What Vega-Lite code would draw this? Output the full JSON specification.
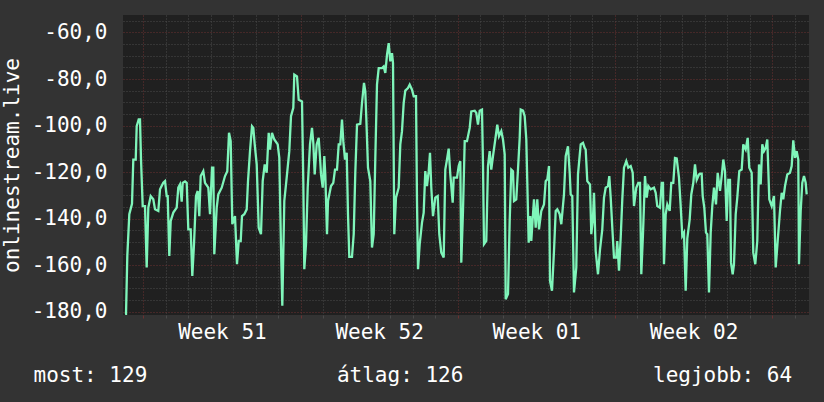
{
  "$schema": "https://vega.github.io/schema/vega-lite/v6.json",
  "width": 686,
  "height": 300,
  "autosize": {"type": "none"},
  "padding": {"left": 123, "top": 15, "right": 15, "bottom": 87},
  "background": "#333333",
  "config": {
    "font": "DejaVu Sans Mono",
    "view": {"fill": "#202020", "stroke": null}
  },
  "data": {
    "values": [
      {"t":-0.81,"v":-181},{"t":-0.77,"v":-181},{"t":-0.712,"v":-156},{"t":-0.623,"v":-138.1},{"t":-0.503,"v":-133.6},{"t":-0.445,"v":-114.6},{"t":-0.338,"v":-114.6},{"t":-0.294,"v":-100.3},{"t":-0.205,"v":-97.4},{"t":-0.147,"v":-97.4},{"t":-0.102,"v":-114.6},{"t":-0.027,"v":-134.6},{"t":0.076,"v":-134.6},{"t":0.151,"v":-161},{"t":0.223,"v":-135.3},{"t":0.329,"v":-130.3},{"t":0.445,"v":-131.7},{"t":0.521,"v":-136},{"t":0.668,"v":-136.7},{"t":0.744,"v":-127.4},{"t":0.89,"v":-124.6},{"t":0.966,"v":-123.9},{"t":1.042,"v":-130.3},{"t":1.086,"v":-130.3},{"t":1.158,"v":-156},{"t":1.22,"v":-141},{"t":1.336,"v":-137.4},{"t":1.487,"v":-135.3},{"t":1.558,"v":-126.7},{"t":1.634,"v":-125.3},{"t":1.71,"v":-132.7},{"t":1.754,"v":-124.6},{"t":1.857,"v":-124},{"t":1.932,"v":-124.6},{"t":2.004,"v":-144.6},{"t":2.11,"v":-144.6},{"t":2.182,"v":-164.6},{"t":2.257,"v":-151},{"t":2.346,"v":-130.3},{"t":2.422,"v":-128.1},{"t":2.493,"v":-138.9},{"t":2.556,"v":-121.7},{"t":2.671,"v":-119.6},{"t":2.747,"v":-124.6},{"t":2.894,"v":-126.7},{"t":2.97,"v":-138.1},{"t":3.059,"v":-118.1},{"t":3.117,"v":-118.1},{"t":3.161,"v":-155.3},{"t":3.268,"v":-135.3},{"t":3.339,"v":-129.6},{"t":3.491,"v":-126.7},{"t":3.638,"v":-121.7},{"t":3.74,"v":-119.6},{"t":3.816,"v":-103.1},{"t":3.891,"v":-106.7},{"t":3.963,"v":-142.4},{"t":4.083,"v":-138.9},{"t":4.172,"v":-159.6},{"t":4.248,"v":-149.6},{"t":4.337,"v":-149.6},{"t":4.394,"v":-138.9},{"t":4.497,"v":-138.1},{"t":4.604,"v":-136},{"t":4.662,"v":-123.9},{"t":4.751,"v":-111},{"t":4.84,"v":-100.3},{"t":4.898,"v":-101},{"t":4.96,"v":-108.1},{"t":5.049,"v":-116.7},{"t":5.138,"v":-143.9},{"t":5.24,"v":-146.7},{"t":5.316,"v":-123.9},{"t":5.405,"v":-116.7},{"t":5.494,"v":-120.3},{"t":5.583,"v":-103.1},{"t":5.641,"v":-110.3},{"t":5.73,"v":-103.1},{"t":5.833,"v":-106},{"t":5.984,"v":-108.1},{"t":6.055,"v":-113.9},{"t":6.131,"v":-152.4},{"t":6.189,"v":-177.4},{"t":6.278,"v":-132.4},{"t":6.354,"v":-125.3},{"t":6.5,"v":-111},{"t":6.576,"v":-96},{"t":6.679,"v":-92.4},{"t":6.723,"v":-78.1},{"t":6.843,"v":-78.9},{"t":6.919,"v":-88.9},{"t":7.066,"v":-89.6},{"t":7.124,"v":-123.9},{"t":7.168,"v":-161.7},{"t":7.244,"v":-151},{"t":7.32,"v":-126.7},{"t":7.422,"v":-108.1},{"t":7.511,"v":-101},{"t":7.569,"v":-107.4},{"t":7.631,"v":-121},{"t":7.72,"v":-108.1},{"t":7.809,"v":-105.3},{"t":7.867,"v":-113.6},{"t":7.912,"v":-121},{"t":7.988,"v":-126.7},{"t":8.059,"v":-113.1},{"t":8.103,"v":-121},{"t":8.179,"v":-146.7},{"t":8.224,"v":-132.4},{"t":8.357,"v":-126},{"t":8.459,"v":-124.6},{"t":8.535,"v":-118.9},{"t":8.624,"v":-118.9},{"t":8.7,"v":-108.1},{"t":8.771,"v":-108.1},{"t":8.847,"v":-97.4},{"t":8.905,"v":-106.7},{"t":8.98,"v":-114.6},{"t":9.056,"v":-111.7},{"t":9.114,"v":-138.1},{"t":9.172,"v":-156.4},{"t":9.292,"v":-156.4},{"t":9.368,"v":-146.7},{"t":9.439,"v":-120.3},{"t":9.515,"v":-99.6},{"t":9.662,"v":-99.3},{"t":9.737,"v":-90.3},{"t":9.826,"v":-81.7},{"t":9.884,"v":-85.3},{"t":9.929,"v":-96.7},{"t":10.004,"v":-118.1},{"t":10.107,"v":-123.9},{"t":10.182,"v":-152.4},{"t":10.258,"v":-146.7},{"t":10.329,"v":-114.6},{"t":10.405,"v":-82.4},{"t":10.481,"v":-75.3},{"t":10.628,"v":-75.3},{"t":10.703,"v":-74.6},{"t":10.775,"v":-77.4},{"t":10.85,"v":-69.6},{"t":10.926,"v":-64.6},{"t":10.997,"v":-72.4},{"t":11.073,"v":-68.9},{"t":11.118,"v":-73.1},{"t":11.175,"v":-146.7},{"t":11.251,"v":-131},{"t":11.371,"v":-126.7},{"t":11.443,"v":-108.1},{"t":11.518,"v":-102.4},{"t":11.594,"v":-90.3},{"t":11.665,"v":-85},{"t":11.785,"v":-83.9},{"t":11.861,"v":-82.4},{"t":11.964,"v":-84.6},{"t":12.039,"v":-87.4},{"t":12.142,"v":-87.4},{"t":12.186,"v":-132.4},{"t":12.231,"v":-161.7},{"t":12.306,"v":-151},{"t":12.409,"v":-141.7},{"t":12.484,"v":-137.4},{"t":12.556,"v":-119.6},{"t":12.631,"v":-126},{"t":12.707,"v":-119.6},{"t":12.765,"v":-111.7},{"t":12.823,"v":-126.7},{"t":12.898,"v":-138.9},{"t":13.001,"v":-131},{"t":13.108,"v":-130.3},{"t":13.179,"v":-146.7},{"t":13.268,"v":-154.6},{"t":13.375,"v":-156.7},{"t":13.446,"v":-118.9},{"t":13.522,"v":-114.6},{"t":13.597,"v":-109.9},{"t":13.669,"v":-121},{"t":13.775,"v":-133.1},{"t":13.82,"v":-122.4},{"t":13.967,"v":-122.4},{"t":14.043,"v":-117.4},{"t":14.114,"v":-115.3},{"t":14.158,"v":-158.9},{"t":14.234,"v":-136.7},{"t":14.31,"v":-106.7},{"t":14.412,"v":-106.7},{"t":14.533,"v":-101},{"t":14.604,"v":-93.9},{"t":14.755,"v":-93.6},{"t":14.826,"v":-94.6},{"t":14.902,"v":-99.6},{"t":14.978,"v":-93.6},{"t":15.08,"v":-93.1},{"t":15.125,"v":-116.7},{"t":15.169,"v":-151},{"t":15.272,"v":-149.6},{"t":15.347,"v":-117.4},{"t":15.423,"v":-111},{"t":15.494,"v":-118.9},{"t":15.57,"v":-113.1},{"t":15.672,"v":-106},{"t":15.761,"v":-99.6},{"t":15.837,"v":-104.6},{"t":15.939,"v":-102.4},{"t":16.015,"v":-106},{"t":16.091,"v":-112.4},{"t":16.135,"v":-174.6},{"t":16.238,"v":-172.4},{"t":16.313,"v":-141},{"t":16.385,"v":-118.9},{"t":16.46,"v":-119.6},{"t":16.505,"v":-132.4},{"t":16.607,"v":-131.7},{"t":16.683,"v":-118.9},{"t":16.759,"v":-105.3},{"t":16.803,"v":-93.1},{"t":16.906,"v":-93.6},{"t":16.981,"v":-96},{"t":17.053,"v":-106},{"t":17.159,"v":-150.3},{"t":17.231,"v":-138.9},{"t":17.275,"v":-149.6},{"t":17.351,"v":-138.1},{"t":17.395,"v":-131.7},{"t":17.471,"v":-143.9},{"t":17.542,"v":-131.7},{"t":17.618,"v":-144.6},{"t":17.72,"v":-136.7},{"t":17.841,"v":-133.9},{"t":17.916,"v":-123.9},{"t":17.988,"v":-123.1},{"t":18.063,"v":-117.4},{"t":18.108,"v":-166.7},{"t":18.197,"v":-171},{"t":18.286,"v":-153.9},{"t":18.362,"v":-136.7},{"t":18.433,"v":-136},{"t":18.54,"v":-138.1},{"t":18.611,"v":-142.4},{"t":18.731,"v":-129.6},{"t":18.807,"v":-113.1},{"t":18.909,"v":-108.9},{"t":18.985,"v":-120.3},{"t":19.029,"v":-129.6},{"t":19.1,"v":-130.3},{"t":19.176,"v":-171.7},{"t":19.279,"v":-161},{"t":19.354,"v":-121},{"t":19.475,"v":-108.1},{"t":19.577,"v":-107.4},{"t":19.653,"v":-109.6},{"t":19.697,"v":-110.3},{"t":19.768,"v":-123.9},{"t":19.889,"v":-125.3},{"t":19.947,"v":-146.7},{"t":20.022,"v":-139.6},{"t":20.067,"v":-128.9},{"t":20.142,"v":-153.9},{"t":20.245,"v":-163.9},{"t":20.334,"v":-153.3},{"t":20.436,"v":-144.6},{"t":20.512,"v":-131},{"t":20.588,"v":-126.7},{"t":20.69,"v":-126},{"t":20.748,"v":-121.7},{"t":20.811,"v":-131},{"t":20.882,"v":-143.9},{"t":20.957,"v":-156.7},{"t":21.06,"v":-156.7},{"t":21.104,"v":-149.6},{"t":21.18,"v":-162.4},{"t":21.256,"v":-148.1},{"t":21.327,"v":-131.7},{"t":21.402,"v":-118.1},{"t":21.505,"v":-115.3},{"t":21.594,"v":-118.1},{"t":21.701,"v":-117.4},{"t":21.79,"v":-120.3},{"t":21.848,"v":-134.6},{"t":21.95,"v":-126.7},{"t":22.039,"v":-124.6},{"t":22.115,"v":-124.6},{"t":22.173,"v":-163.9},{"t":22.248,"v":-146.7},{"t":22.337,"v":-121.7},{"t":22.413,"v":-131},{"t":22.484,"v":-126},{"t":22.591,"v":-127.4},{"t":22.738,"v":-126.7},{"t":22.814,"v":-128.9},{"t":22.885,"v":-134.6},{"t":23.005,"v":-135.3},{"t":23.081,"v":-124.6},{"t":23.139,"v":-124.6},{"t":23.183,"v":-159.6},{"t":23.259,"v":-138.1},{"t":23.33,"v":-133.9},{"t":23.437,"v":-136.7},{"t":23.508,"v":-124.6},{"t":23.597,"v":-124.6},{"t":23.673,"v":-113.9},{"t":23.749,"v":-114.1},{"t":23.851,"v":-122.4},{"t":23.927,"v":-134.6},{"t":23.998,"v":-147.4},{"t":24.074,"v":-146},{"t":24.149,"v":-171},{"t":24.221,"v":-148.6},{"t":24.328,"v":-140.3},{"t":24.399,"v":-129.6},{"t":24.488,"v":-124.6},{"t":24.564,"v":-116.7},{"t":24.639,"v":-123.3},{"t":24.742,"v":-121},{"t":24.786,"v":-120.7},{"t":24.862,"v":-120.7},{"t":24.907,"v":-130.3},{"t":24.978,"v":-135.3},{"t":25.053,"v":-146},{"t":25.111,"v":-146.7},{"t":25.187,"v":-171.7},{"t":25.263,"v":-146},{"t":25.334,"v":-134.6},{"t":25.41,"v":-126.7},{"t":25.499,"v":-133.9},{"t":25.574,"v":-120.3},{"t":25.677,"v":-128.1},{"t":25.753,"v":-121.7},{"t":25.824,"v":-114.6},{"t":25.899,"v":-119.6},{"t":25.975,"v":-141},{"t":26.046,"v":-123.3},{"t":26.122,"v":-123.3},{"t":26.167,"v":-158.9},{"t":26.242,"v":-163.9},{"t":26.3,"v":-159.6},{"t":26.376,"v":-138.1},{"t":26.447,"v":-131},{"t":26.536,"v":-119.6},{"t":26.643,"v":-118.9},{"t":26.714,"v":-108.1},{"t":26.821,"v":-110.3},{"t":26.91,"v":-105.3},{"t":26.981,"v":-118.1},{"t":27.088,"v":-120.3},{"t":27.159,"v":-154.6},{"t":27.248,"v":-159.6},{"t":27.337,"v":-149.6},{"t":27.413,"v":-116.7},{"t":27.489,"v":-125.3},{"t":27.56,"v":-108.1},{"t":27.636,"v":-111},{"t":27.711,"v":-109.6},{"t":27.783,"v":-106},{"t":27.872,"v":-131.7},{"t":27.979,"v":-134.6},{"t":28.081,"v":-130.3},{"t":28.157,"v":-161},{"t":28.246,"v":-149.6},{"t":28.348,"v":-136.7},{"t":28.424,"v":-128.9},{"t":28.495,"v":-131.7},{"t":28.571,"v":-126},{"t":28.673,"v":-121},{"t":28.793,"v":-120.3},{"t":28.869,"v":-117.4},{"t":28.94,"v":-106.4},{"t":29.016,"v":-113.9},{"t":29.091,"v":-111},{"t":29.163,"v":-114.6},{"t":29.194,"v":-159.6},{"t":29.27,"v":-136.7},{"t":29.341,"v":-124.6},{"t":29.417,"v":-121.7},{"t":29.492,"v":-124.6},{"t":29.537,"v":-129.6}
    ]
  },
  "mark": {"type": "line", "color": "#7ff5ba", "strokeWidth": 2.3, "clip": true, "interpolate": "linear"},
  "encoding": {
    "x": {
      "field": "t",
      "type": "quantitative",
      "scale": {"domain": [-0.904, 29.64], "nice": false, "zero": false},
      "axis": {
        "values": [0,1,2,3,4,5,6,7,8,9,10,11,12,13,14,15,16,17,18,19,20,21,22,23,24,25,26,27,28,29,3.5,10.5,17.5,24.5],
        "labelExpr": "datum.value === 3.5 ? 'Week 51' : datum.value === 10.5 ? 'Week 52' : datum.value === 17.5 ? 'Week 01' : datum.value === 24.5 ? 'Week 02' : ''",
        "labelColor": "#ffffff",
        "labelFontSize": 21,
        "labelPadding": 3,
        "labelOverlap": false,
        "labelBound": false,
        "labelFlush": false,
        "domain": false,
        "grid": true,
        "gridColor": {"condition": {"test": "datum.value % 7 === 0", "value": "#6a3131"}, "value": "#4a4a4a"},
        "gridOpacity": {"condition": {"test": "datum.value % 1 !== 0", "value": 0}, "value": 1},
        "gridDash": [1, 2],
        "ticks": true,
        "tickSize": 3,
        "tickColor": {"condition": {"test": "datum.value % 7 === 0", "value": "#6a3131"}, "value": "#4a4a4a"},
        "tickOpacity": {"condition": {"test": "datum.value % 1 !== 0", "value": 0}, "value": 1},
        "title": "most: 129\u00a0\u00a0\u00a0\u00a0\u00a0\u00a0\u00a0\u00a0\u00a0\u00a0\u00a0\u00a0\u00a0\u00a0\u00a0átlag: 126\u00a0\u00a0\u00a0\u00a0\u00a0\u00a0\u00a0\u00a0\u00a0\u00a0\u00a0\u00a0\u00a0\u00a0\u00a0legjobb: 64",
        "titleX": -90,
        "titleY": 66,
        "titleAlign": "left",
        "titleBaseline": "alphabetic",
        "titleColor": "#ffffff",
        "titleFontSize": 21,
        "titleFontWeight": "normal"
      }
    },
    "y": {
      "field": "v",
      "type": "quantitative",
      "scale": {"domain": [-181.4, -52.5], "nice": false, "zero": false},
      "axis": {
        "values": [-180,-175,-170,-165,-160,-155,-150,-145,-140,-135,-130,-125,-120,-115,-110,-105,-100,-95,-90,-85,-80,-75,-70,-65,-60,-55],
        "labelExpr": "datum.value % 20 === 0 ? datum.value + ',0' : ''",
        "labelColor": "#ffffff",
        "labelFontSize": 21,
        "labelPadding": 16,
        "labelOverlap": false,
        "labelBound": false,
        "labelFlush": false,
        "domain": false,
        "ticks": false,
        "grid": true,
        "gridColor": {"condition": {"test": "datum.value % 20 === 0", "value": "#6a3131"}, "value": "#4a4a4a"},
        "gridDash": [1, 2],
        "title": "onlinestream.live",
        "titleX": -111,
        "titleY": 150,
        "titleAngle": -90,
        "titleAlign": "center",
        "titleBaseline": "middle",
        "titleColor": "#ffffff",
        "titleFontSize": 21,
        "titleFontWeight": "normal"
      }
    }
  }
}
